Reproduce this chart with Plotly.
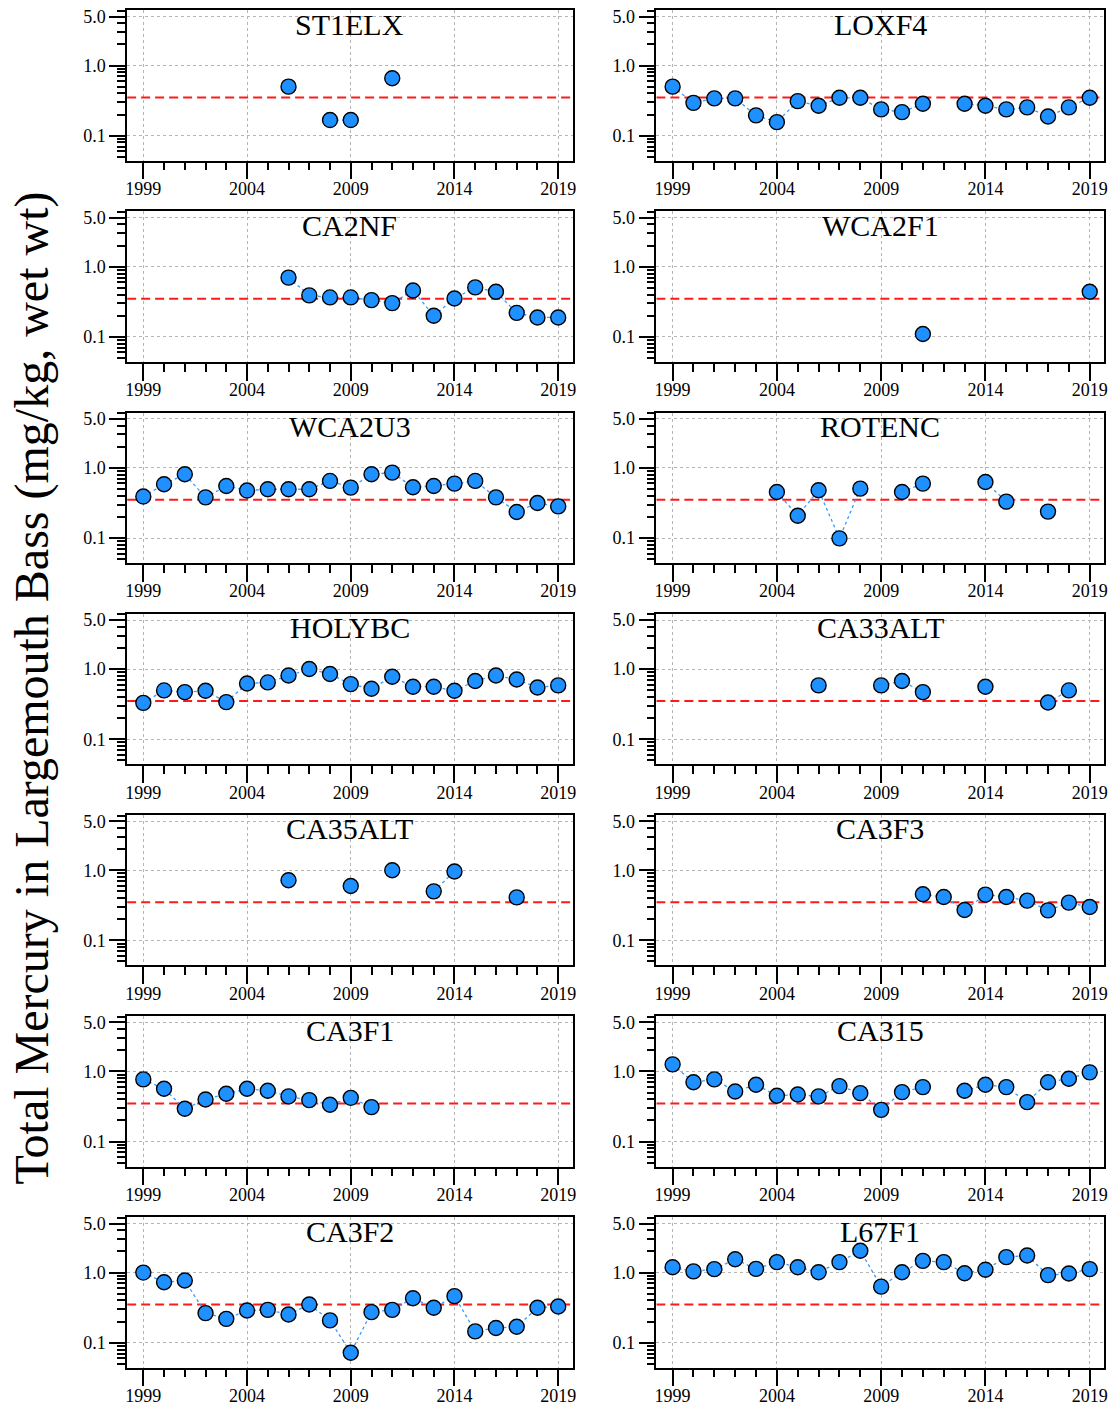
import plotly.graph_objects as go

YEARS = [1999, 2000, 2001, 2002, 2003, 2004, 2005, 2006, 2007, 2008, 2009,
         2010, 2011, 2012, 2013, 2014, 2015, 2016, 2017, 2018, 2019]
N = None

ST1ELX = [N, N, N, N, N, N, N, 0.50, N, 0.167, 0.167, N, 0.66, N, N, N, N, N, N, N, N]
LOXF4 = [0.50, 0.294, 0.34, 0.34, 0.195, 0.156, 0.311, 0.267, 0.347, 0.347, 0.237,
         0.217, 0.285, N, 0.285, 0.267, 0.237, 0.253, 0.188, 0.253, 0.347]
CA2NF = [N, N, N, N, N, N, N, 0.70, 0.39, 0.365, 0.365, 0.334, 0.303, 0.459, 0.20,
         0.353, 0.507, 0.44, 0.22, 0.189, 0.189]
WCA2F1 = [N, N, N, N, N, N, N, N, N, N, N, N, 0.11, N, N, N, N, N, N, N, 0.44]
WCA2U3 = [0.39, 0.585, 0.81, 0.38, 0.553, 0.475, 0.496, 0.496, 0.496, 0.652, 0.524,
          0.81, 0.857, 0.53, 0.553, 0.597, 0.652, 0.38, 0.235, 0.316, 0.283]
ROTENC = [N, N, N, N, N, 0.454, 0.208, 0.48, 0.099, 0.507, N, 0.454, 0.597, N, N,
          0.63, 0.33, N, 0.238, N, N]
HOLYBC = [0.33, 0.496, 0.469, 0.49, 0.338, 0.624, 0.645, 0.81, 1.0, 0.85, 0.61,
          0.524, 0.777, 0.56, 0.56, 0.49, 0.675, 0.81, 0.71, 0.547, 0.585]
CA33ALT = [N, N, N, N, N, N, N, 0.585, N, N, 0.585, 0.675, 0.469, N, N, 0.56, N, N,
           0.334, 0.496, N]
CA35ALT = [N, N, N, N, N, N, N, 0.72, N, N, 0.597, N, 1.0, N, 0.50, 0.96, N, N,
           0.41, N, N]
CA3F3 = [N, N, N, N, N, N, N, N, N, N, N, N, 0.454, 0.416, 0.271, 0.449, 0.416,
         0.369, 0.268, 0.345, 0.299]
CA3F1 = [0.769, 0.565, 0.293, 0.398, 0.48, 0.565, 0.53, 0.44, 0.39, 0.334, 0.42,
         0.31, N, N, N, N, N, N, N, N, N]
CA315 = [1.26, 0.70, 0.769, 0.518, 0.645, 0.449, 0.469, 0.44, 0.617, 0.49, 0.283,
         0.507, 0.597, N, 0.53, 0.645, 0.597, 0.365, 0.70, 0.785, 0.97]
CA3F2 = [1.0, 0.729, 0.77, 0.264, 0.219, 0.288, 0.294, 0.253, 0.351, 0.208, 0.072,
         0.273, 0.294, 0.431, 0.315, 0.461, 0.145, 0.162, 0.169, 0.315, 0.329]
L67F1 = [1.19, 1.04, 1.12, 1.55, 1.13, 1.41, 1.19, 1.01, 1.41, 2.05, 0.63, 1.01,
         1.47, 1.41, 0.98, 1.10, 1.66, 1.75, 0.92, 0.97, 1.12]

SITES = ["ST1ELX", "LOXF4", "CA2NF", "WCA2F1", "WCA2U3", "ROTENC", "HOLYBC",
         "CA33ALT", "CA35ALT", "CA3F3", "CA3F1", "CA315", "CA3F2", "L67F1"]
SERIES = [ST1ELX, LOXF4, CA2NF, WCA2F1, WCA2U3, ROTENC, HOLYBC,
          CA33ALT, CA35ALT, CA3F3, CA3F1, CA315, CA3F2, L67F1]

THRESHOLD = 0.35
X_TICKS = [1999, 2004, 2009, 2014, 2019]
Y_TICKS = [0.1, 1.0, 5.0]
Y_TICK_TEXT = ["0.1", "1.0", "5.0"]
Y_MINOR = [0.05, 0.06, 0.07, 0.08, 0.09, 0.2, 0.3, 0.4, 0.5, 0.6, 0.7, 0.8, 0.9,
           2, 3, 4, 6]
X_RANGE = [1998.22, 2019.7]
Y_RANGE_LOG = [-1.356, 0.788]
Y_TITLE = "Total Mercury in Largemouth Bass (mg/kg, wet wt)"

W, H = 1112, 1407
FONT = "Times New Roman, Liberation Serif, serif"
COL_X = [(125.7, 573.3), (657.3, 1107.3)]
ROW_TOP0, ROW_PITCH, BOX_H = 7.3, 201.6, 150.7

fig = go.Figure()
layout = dict(width=W, height=H, margin=dict(l=0, r=0, t=0, b=0),
              paper_bgcolor="white", plot_bgcolor="white", showlegend=False,
              font=dict(family=FONT, color="black"))
annotations = []

for i, (name, vals) in enumerate(zip(SITES, SERIES)):
    r, c = divmod(i, 2)
    sfx = "" if i == 0 else str(i + 1)
    xa, ya = "x" + sfx, "y" + sfx
    top = ROW_TOP0 + ROW_PITCH * r
    bot = top + BOX_H
    x0, x1 = COL_X[c]
    layout["xaxis" + sfx] = dict(
        domain=[x0 / W, x1 / W], anchor=ya, range=X_RANGE,
        tickmode="array", tickvals=X_TICKS, ticks="outside", ticklen=17,
        tickwidth=1.6, tickcolor="black", showline=True, linecolor="black",
        linewidth=1.6, mirror=True, showgrid=True, gridcolor="#B5B5B5",
        griddash="dot", gridwidth=1, zeroline=False, ticklabelstandoff=-6,
        tickfont=dict(family=FONT, size=18, color="black"),
        minor=dict(dtick=1, tick0=1999, ticks="outside", ticklen=8,
                   tickwidth=1.6, tickcolor="black", showgrid=False),
    )
    layout["yaxis" + sfx] = dict(
        domain=[1 - bot / H, 1 - top / H], anchor=xa, type="log",
        range=Y_RANGE_LOG, tickmode="array", tickvals=Y_TICKS,
        ticktext=Y_TICK_TEXT, ticks="outside", ticklen=16, tickwidth=1.6,
        tickcolor="black", showline=True, linecolor="black", linewidth=1.6,
        mirror=True, showgrid=True, gridcolor="#B5B5B5", griddash="dot",
        gridwidth=1, zeroline=False,
        tickfont=dict(family=FONT, size=18, color="black"),
        minor=dict(tickmode="array", tickvals=Y_MINOR, ticks="outside",
                   ticklen=8, tickwidth=1.6, tickcolor="black",
                   showgrid=False),
    )
    fig.add_trace(go.Scatter(
        x=X_RANGE, y=[THRESHOLD, THRESHOLD], mode="lines", xaxis=xa, yaxis=ya,
        line=dict(color="#FF1A1A", width=2, dash="9px,5px"),
        hoverinfo="skip"))
    fig.add_trace(go.Scatter(
        x=YEARS, y=vals, mode="lines+markers", connectgaps=False,
        xaxis=xa, yaxis=ya,
        line=dict(color="#3A9BFF", width=1.3, dash="3px,3px"),
        marker=dict(size=15, color="#1E90FF",
                    line=dict(color="black", width=1.4)),
        name=name))
    annotations.append(dict(
        text=name, x=(x0 + x1) / 2 / W, y=1 - (top + 14) / H,
        xref="paper", yref="paper", xanchor="center", yanchor="middle",
        showarrow=False, font=dict(family=FONT, size=30, color="black")))

annotations.append(dict(
    text=Y_TITLE, x=30 / W, y=1 - 686 / H, xref="paper", yref="paper",
    xanchor="center", yanchor="middle", textangle=-90, showarrow=False,
    font=dict(family=FONT, size=48, color="black")))
layout["annotations"] = annotations
fig.update_layout(**layout)
fig.write_html(
    "out.html",
    config={"displayModeBar": False},
    post_script="document.body.style.margin='0';"
                "document.body.style.overflow='hidden';")
